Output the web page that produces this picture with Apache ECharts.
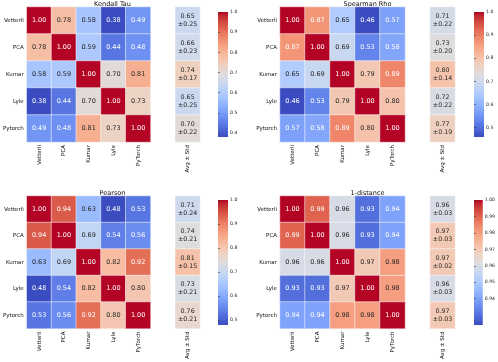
<!DOCTYPE html>
<html>
<head>
<meta charset="utf-8">
<script src="https://cdn.jsdelivr.net/npm/echarts@6/dist/echarts.min.js"></script>
<style>
  html, body { margin: 0; padding: 0; background: #fff; }
  #chart { width: 498px; height: 362px; }
</style>
</head>
<body>
<div id="chart"></div>
<script>
const rowLabels = ['Vetterli', 'PCA', 'Kumar', 'Lyle', 'Pytorch'];
const colLabels = ['Vetterli', 'PCA', 'Kumar', 'Lyle', 'PyTorch', '', 'Avg ± Std'];

const kendall = [
  [1.00, 0.78, 0.58, 0.38, 0.49],
  [0.78, 1.00, 0.59, 0.44, 0.48],
  [0.58, 0.59, 1.00, 0.70, 0.81],
  [0.38, 0.44, 0.70, 1.00, 0.73],
  [0.49, 0.48, 0.81, 0.73, 1.00]
];
const kendallAvg = [0.65, 0.66, 0.74, 0.65, 0.70];
const kendallStd = [0.25, 0.23, 0.17, 0.25, 0.22];

const spearman = [
  [1.00, 0.87, 0.65, 0.46, 0.57],
  [0.87, 1.00, 0.69, 0.53, 0.58],
  [0.65, 0.69, 1.00, 0.79, 0.89],
  [0.46, 0.53, 0.79, 1.00, 0.80],
  [0.57, 0.58, 0.89, 0.80, 1.00]
];
const spearmanAvg = [0.71, 0.73, 0.80, 0.72, 0.77];
const spearmanStd = [0.22, 0.20, 0.14, 0.22, 0.19];

const pearson = [
  [1.00, 0.94, 0.63, 0.48, 0.53],
  [0.94, 1.00, 0.69, 0.54, 0.56],
  [0.63, 0.69, 1.00, 0.82, 0.92],
  [0.48, 0.54, 0.82, 1.00, 0.80],
  [0.53, 0.56, 0.92, 0.80, 1.00]
];
const pearsonAvg = [0.71, 0.74, 0.81, 0.73, 0.76];
const pearsonStd = [0.24, 0.21, 0.15, 0.21, 0.21];

const distance = [
  [1.00, 0.99, 0.96, 0.93, 0.94],
  [0.99, 1.00, 0.96, 0.93, 0.94],
  [0.96, 0.96, 1.00, 0.97, 0.98],
  [0.93, 0.93, 0.97, 1.00, 0.98],
  [0.94, 0.94, 0.98, 0.98, 1.00]
];
const distanceAvg = [0.96, 0.97, 0.97, 0.96, 0.97];
const distanceStd = [0.03, 0.03, 0.02, 0.03, 0.03];

const kendallTicks = [0.4, 0.5, 0.6, 0.7, 0.8, 0.9, 1.0];
const spearmanTicks = [0.5, 0.6, 0.7, 0.8, 0.9, 1.0];
const pearsonTicks = [0.5, 0.6, 0.7, 0.8, 0.9, 1.0];
const distanceTicks = [0.94, 0.95, 0.96, 0.97, 0.98, 0.99, 1.00];

// coolwarm (Moreland) stops
const coolwarm = [
  [59,76,192],[68,90,204],[77,104,215],[87,117,225],[98,130,234],[108,142,241],
  [119,154,247],[130,165,251],[141,176,254],[152,185,255],[163,194,255],[174,201,253],
  [184,208,249],[194,213,244],[204,217,238],[213,219,230],[221,221,221],[229,216,209],
  [236,211,197],[241,204,185],[245,196,173],[247,187,160],[247,177,148],[247,166,135],
  [244,154,123],[241,141,111],[236,127,99],[229,112,88],[222,96,77],[213,80,66],
  [203,62,56],[192,40,47],[180,4,38]
];
const cwHex = coolwarm.map(c => '#' + c.map(v => v.toString(16).padStart(2, '0')).join(''));

function cwColor(t) {
  t = Math.max(0, Math.min(1, t));
  const p = t * (coolwarm.length - 1);
  const i = Math.min(Math.floor(p), coolwarm.length - 2);
  const f = p - i;
  return coolwarm[i].map((v, k) => v + (coolwarm[i + 1][k] - v) * f);
}
function luminance(rgb) {
  const lin = rgb.map(v => {
    v /= 255;
    return v <= 0.03928 ? v / 12.92 : Math.pow((v + 0.055) / 1.055, 2.4);
  });
  return 0.2126 * lin[0] + 0.7152 * lin[1] + 0.0722 * lin[2];
}

const panels = [
  { title: 'Kendall Tau', m: kendall, avg: kendallAvg, std: kendallStd, vmin: 0.38, ticks: kendallTicks, dec: 1,
    left: 25, top: 7, h: 135, cbLeft: 218, cbTop: 12 },
  { title: 'Spearman Rho', m: spearman, avg: spearmanAvg, std: spearmanStd, vmin: 0.46, ticks: spearmanTicks, dec: 1,
    left: 280, top: 7, h: 135, cbLeft: 474, cbTop: 12 },
  { title: 'Pearson', m: pearson, avg: pearsonAvg, std: pearsonStd, vmin: 0.48, ticks: pearsonTicks, dec: 1,
    left: 25, top: 196, h: 133, cbLeft: 218, cbTop: 200 },
  { title: '1-distance', m: distance, avg: distanceAvg, std: distanceStd, vmin: 0.924, ticks: distanceTicks, dec: 2,
    left: 280, top: 196, h: 133, cbLeft: 474, cbTop: 200 }
];

const grid = [], xAxis = [], yAxis = [], series = [], visualMap = [], graphic = [];
const font = 'DejaVu Sans';
const n = panels.length;

// vertical gradient for the colour bars (bottom = vmin, top = 1)
const barGradient = () => new echarts.graphic.LinearGradient(0, 1, 0, 0,
  cwHex.map((c, k) => ({ offset: k / (cwHex.length - 1), color: c })));

panels.forEach((p, i) => {
  grid[i] = { left: p.left, top: p.top, width: 175, height: p.h };
  xAxis[i] = {
    type: 'category', gridIndex: i, data: colLabels,
    axisLine: { show: false },
    axisTick: { length: 2, alignWithLabel: true, lineStyle: { color: '#333', width: 0.6 } },
    axisLabel: { rotate: 90, fontSize: 5.5, margin: 3, color: '#111', fontFamily: font, interval: 0 },
    splitLine: { show: false }
  };
  yAxis[i] = {
    type: 'category', gridIndex: i, data: rowLabels, inverse: true,
    axisLine: { show: false },
    axisTick: { length: 2, alignWithLabel: true, lineStyle: { color: '#333', width: 0.6 } },
    axisLabel: { fontSize: 5.5, margin: 3, color: '#111', fontFamily: font, interval: 0 },
    splitLine: { show: false }
  };

  const data = [];
  p.m.forEach((row, r) => {
    row.forEach((v, c) => {
      const lum = luminance(cwColor((v - p.vmin) / (1 - p.vmin)));
      data.push({ value: [c, r, v], label: { color: lum > 0.44 ? '#262626' : '#ffffff' } });
    });
    data.push({
      value: [6, r, p.avg[r]],
      label: {
        color: '#262626', fontSize: 6.3, lineHeight: 8,
        formatter: p.avg[r].toFixed(2) + '\n±' + p.std[r].toFixed(2)
      }
    });
  });

  series.push({
    type: 'heatmap', xAxisIndex: i, yAxisIndex: i, data: data,
    itemStyle: { borderColor: '#ffffff', borderWidth: 0.5 },
    label: {
      show: true, fontSize: 6.5, fontFamily: font,
      formatter: prm => prm.value[2].toFixed(2)
    },
    emphasis: { disabled: true }
  });

  visualMap.push({
    type: 'continuous', seriesIndex: i, dimension: 2, show: false,
    min: p.vmin, max: 1,
    inRange: { color: cwHex }
  });

  // colour bar: gradient-filled grid with a tick axis on its right side
  const gi = n + i;
  grid[gi] = {
    left: p.cbLeft, top: p.cbTop, width: 10, height: 125,
    show: true, borderWidth: 0, backgroundColor: barGradient()
  };
  xAxis[gi] = { type: 'value', gridIndex: gi, show: false };
  yAxis[gi] = {
    type: 'value', gridIndex: gi, position: 'right', min: p.vmin, max: 1,
    axisLine: { show: false },
    splitLine: { show: false },
    axisTick: { show: true, length: 2, customValues: p.ticks, lineStyle: { color: '#333', width: 0.6 } },
    axisLabel: {
      fontSize: 4.6, margin: 2, color: '#222', fontFamily: font,
      customValues: p.ticks, formatter: v => v.toFixed(p.dec)
    }
  };

  graphic.push({
    type: 'text', x: p.left + 87.5, y: p.top + 0.5,
    style: { text: p.title, fontSize: 6.5, fontFamily: font, fill: '#111', align: 'center', verticalAlign: 'bottom' }
  });
});

const chart = echarts.init(document.getElementById('chart'), null, { renderer: 'canvas' });
chart.setOption({
  backgroundColor: '#ffffff',
  animation: false,
  grid, xAxis, yAxis, series, visualMap, graphic
});
</script>
</body>
</html>
